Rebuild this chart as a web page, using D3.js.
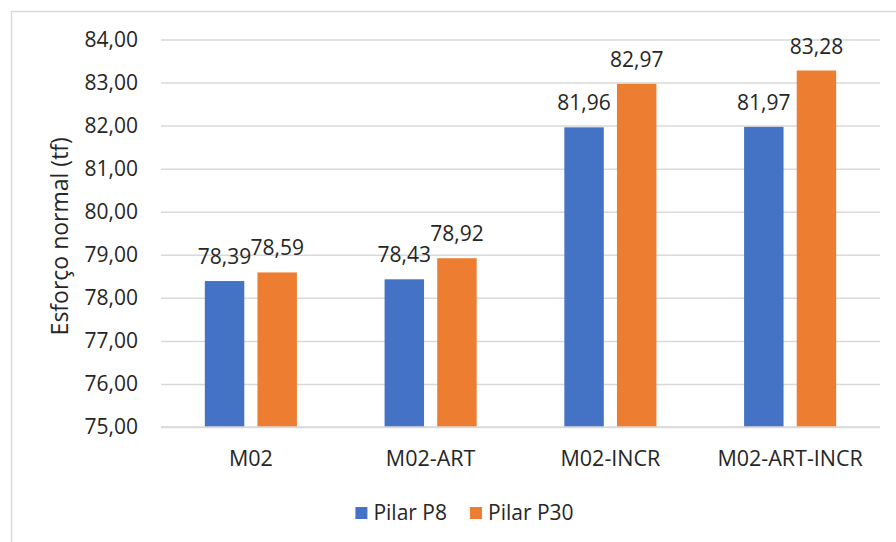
<!DOCTYPE html>
<html>
<head>
<meta charset="utf-8">
<script src="https://cdn.jsdelivr.net/npm/d3@7"></script>
<style>
  html, body { margin: 0; padding: 0; background: #fff; }
  svg { display: block; font-family: "Open Sans", "Noto Sans", sans-serif; }
</style>
</head>
<body>
<svg id="chart" width="896" height="542"></svg>
<script>
// Axial force per model, two columns
const categories = ["M02", "M02-ART", "M02-INCR", "M02-ART-INCR"];
const seriesNames = ["Pilar P8", "Pilar P30"];
const pilarP8 = [78.39, 78.43, 81.96, 81.97];
const pilarP30 = [78.59, 78.92, 82.97, 83.28];
const yTicks = [75, 76, 77, 78, 79, 80, 81, 82, 83, 84];
const colors = ["#4472C4", "#ED7D31"];

const seriesValues = [pilarP8, pilarP30];
const fmt = v => d3.format(".2f")(v).replace(".", ",");
const textColor = "#262626";

const svg = d3.select("#chart");
const W = 896, H = 542;
const plot = { left: 161, right: 880, top: 39.5, bottom: 427 };

// Chart frame (top and left edges visible)
svg.append("path")
  .attr("d", `M11.5,${H} V11.5 H${W}`)
  .attr("fill", "none")
  .attr("stroke", "#d9d9d9")
  .attr("stroke-width", 1.5);

const y = d3.scaleLinear().domain([75, 84]).range([plot.bottom, plot.top]);
const x0 = d3.scaleBand().domain(categories).range([plot.left, plot.right]).padding(0);
const x1 = d3.scaleBand().domain(seriesNames).range([0, x0.bandwidth()])
  .paddingInner(0.25).paddingOuter(0.833);

// Gridlines and value ticks
const yAxis = d3.axisLeft(y).tickValues(yTicks).tickSize(-(plot.right - plot.left)).tickFormat(fmt).tickPadding(23);
const gy = svg.append("g").attr("transform", `translate(${plot.left},0)`).call(yAxis);
gy.select(".domain").remove();
gy.selectAll(".tick line").attr("stroke", "#d9d9d9").attr("stroke-width", 1.5);
gy.selectAll(".tick text")
  .attr("fill", textColor)
  .attr("font-size", 21)
  .attr("font-family", "'Open Sans', sans-serif");

// Bars
const groups = svg.append("g").selectAll("g")
  .data(categories)
  .join("g")
  .attr("transform", d => `translate(${x0(d)},0)`);

groups.selectAll("rect")
  .data((c, i) => seriesNames.map((s, k) => ({ s, k, v: seriesValues[k][i] })))
  .join("rect")
  .attr("x", d => x1(d.s))
  .attr("width", x1.bandwidth())
  .attr("y", d => y(d.v))
  .attr("height", d => y(75) - y(d.v))
  .attr("fill", d => colors[d.k]);

// Value labels
groups.selectAll("text.val")
  .data((c, i) => seriesNames.map((s, k) => ({ s, k, v: seriesValues[k][i] })))
  .join("text")
  .attr("class", "val")
  .attr("x", d => x1(d.s) + x1.bandwidth() / 2)
  .attr("y", d => y(d.v) - 17)
  .attr("text-anchor", "middle")
  .attr("font-size", 21)
  .attr("fill", textColor)
  .text(d => fmt(d.v));

// Category axis baseline
svg.append("line")
  .attr("x1", plot.left).attr("x2", plot.right)
  .attr("y1", plot.bottom).attr("y2", plot.bottom)
  .attr("stroke", "#d9d9d9").attr("stroke-width", 1.5);

const xAxis = d3.axisBottom(x0).tickSize(0).tickPadding(24);
const gx = svg.append("g").attr("transform", `translate(0,${plot.bottom})`).call(xAxis);
gx.select(".domain").remove();
gx.selectAll(".tick text")
  .attr("fill", textColor)
  .attr("font-size", 21.5)
  .attr("font-family", "'Open Sans', sans-serif");

// Y axis title
svg.append("text")
  .attr("transform", `translate(60,${(plot.top + plot.bottom) / 2 + 3}) rotate(-90)`)
  .attr("text-anchor", "middle")
  .attr("dy", "0.35em")
  .attr("font-size", 23)
  .attr("fill", textColor)
  .text("Esforço normal (tf)");

// Legend
const legend = svg.append("g");
let lx = 0;
seriesNames.forEach((name, k) => {
  const item = legend.append("g").attr("transform", `translate(${lx},0)`);
  item.append("rect").attr("x", 0).attr("y", -6).attr("width", 12).attr("height", 12).attr("fill", colors[k]);
  const t = item.append("text").attr("x", 18).attr("dy", "0.35em")
    .attr("font-size", 21).attr("fill", textColor).text(name);
  lx += 18 + t.node().getComputedTextLength() + 23;
});
const legendW = lx - 23;
legend.attr("transform", `translate(${464.5 - legendW / 2},513)`);
</script>
</body>
</html>
